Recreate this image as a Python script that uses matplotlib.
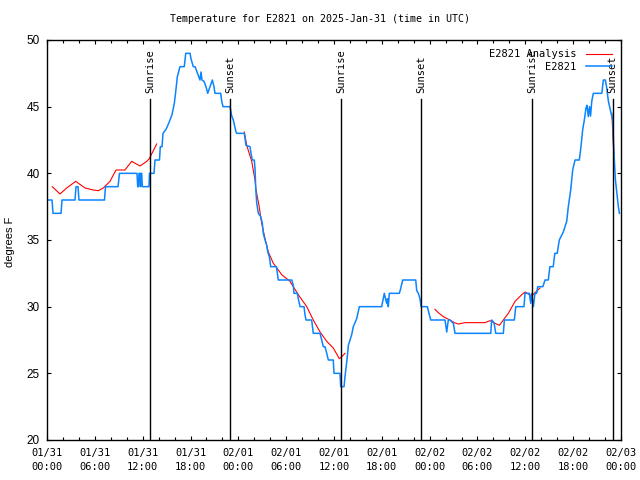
import numpy as np
import matplotlib
matplotlib.use("Agg")
import matplotlib.pyplot as plt

# (hours since 2025-01-31 00:00 UTC, degrees F)
obs_day1 = [(0.0, 38), (0.63, 38), (0.75, 37), (1.76, 37), (1.88, 38), (3.51, 38), (3.64, 39),
            (3.89, 39), (4.01, 38), (7.21, 38), (7.34, 39), (8.91, 39), (9.09, 40), (11.29, 40),
            (11.38, 39), (11.48, 39), (11.54, 40), (11.67, 40), (11.73, 39), (11.79, 40),
            (11.88, 40), (11.95, 39), (12.79, 39), (12.86, 40), (13.42, 40), (13.55, 41),
            (14.11, 41), (14.21, 42), (14.43, 42), (14.55, 43), (14.93, 43.3), (15.30, 43.8),
            (15.43, 44), (15.68, 44.4), (15.97, 45.25), (16.14, 46.1), (16.35, 47.25),
            (16.68, 48), (17.22, 48), (17.40, 49), (17.94, 49), (18.06, 48.6), (18.35, 48),
            (18.57, 48), (18.82, 47.6), (19.19, 47), (19.32, 47.6), (19.44, 47), (19.69, 46.9),
            (19.94, 46.5), (20.16, 46), (20.45, 46.5), (20.74, 47), (20.95, 46.5), (21.07, 46),
            (21.79, 46), (21.92, 45.4), (22.08, 45), (22.96, 45), (23.17, 44.3), (23.37, 44),
            (23.71, 43.1), (23.80, 43)]
obs_day2 = [(24.75, 43), (24.96, 42.1), (25.46, 42), (25.59, 41.5), (25.75, 41), (26.00, 41),
            (26.09, 40.4), (26.18, 38.9), (26.31, 37.75), (26.51, 37), (26.81, 36.75),
            (27.01, 36.25), (27.13, 35.5), (27.35, 35), (27.56, 34.6), (27.69, 34.1),
            (27.89, 33.75), (28.06, 33), (28.78, 33), (29.01, 32), (30.70, 32), (30.90, 31.6),
            (30.98, 31), (31.40, 31), (31.52, 30.6), (31.74, 30), (32.24, 30), (32.36, 29.4),
            (32.49, 29), (33.20, 29), (33.40, 28), (34.25, 28), (34.46, 27.5), (34.66, 27),
            (34.87, 27), (35.09, 26.5), (35.29, 26), (35.91, 26), (36.00, 25), (36.75, 25),
            (36.84, 24), (37.26, 24), (37.38, 24.75), (37.67, 26.25), (37.80, 27.1),
            (38.22, 27.9), (38.42, 28.5), (38.85, 29.1), (39.18, 30), (41.98, 30), (42.11, 30.4),
            (42.31, 31), (42.46, 30.6), (42.61, 30.25), (42.71, 30.6), (42.81, 30), (42.94, 31),
            (44.19, 31), (44.34, 31.3), (44.62, 32), (46.25, 32), (46.38, 31.2), (46.58, 31),
            (46.79, 30.6), (46.92, 30), (47.71, 30), (47.83, 29.7)]
obs_day3 = [(48.13, 29), (49.93, 29), (50.14, 28.1), (50.34, 29), (50.55, 29), (50.97, 28.75),
            (51.18, 28), (55.66, 28), (55.78, 29), (56.07, 28.8), (56.29, 28), (57.24, 28),
            (57.37, 29), (58.62, 29), (58.80, 30), (59.83, 30), (59.96, 31), (60.50, 31),
            (60.68, 30.25), (60.80, 31), (61.01, 30), (61.21, 31), (61.42, 31), (61.55, 31.5),
            (62.2, 31.5), (62.47, 32), (62.88, 32), (63.08, 33), (63.5, 33), (63.7, 34),
            (64.0, 34), (64.26, 35), (64.76, 35.6), (65.19, 36.4), (65.39, 37.5), (65.69, 38.75),
            (65.94, 40.25), (66.23, 41), (66.77, 41), (66.98, 42), (67.19, 43.25), (67.40, 44),
            (67.61, 44.9), (67.74, 45.1), (67.90, 44.25), (68.05, 45), (68.18, 44.3),
            (68.33, 45.4), (68.53, 46), (69.59, 46), (69.79, 47), (70.04, 47), (70.21, 46.4),
            (70.42, 45.4), (70.72, 44.6), (70.97, 44), (71.05, 42.5), (71.14, 41.25),
            (71.30, 39.5), (71.48, 38.5), (71.67, 37.5), (71.80, 37)]

# analysis, drawn only where it exists
ana_seg1 = [(0.66, 39.0), (1.63, 38.45), (2.47, 38.9), (3.60, 39.4), (4.77, 38.9), (5.81, 38.75),
            (6.44, 38.7), (7.06, 38.9), (7.90, 39.4), (8.66, 40.25), (9.78, 40.25), (10.62, 40.9),
            (11.67, 40.55), (12.51, 40.9), (12.83, 41.1), (13.76, 42.2)]
ana_seg2 = [(24.75, 43.1), (25.05, 42.1), (25.68, 40.9), (26.09, 39.5), (26.22, 38.75),
            (26.59, 37.6), (26.93, 36.25), (27.35, 35.1), (27.76, 34.1), (28.39, 33.25),
            (29.02, 32.75), (29.44, 32.4), (30.48, 31.9), (31.52, 30.9), (32.58, 30.0),
            (33.40, 29.0), (34.25, 28.1), (35.09, 27.4), (35.91, 26.9), (36.67, 26.1),
            (36.97, 26.25), (37.38, 26.5)]
ana_seg3 = [(48.67, 29.8), (49.09, 29.55), (49.71, 29.25), (50.55, 29.0), (51.09, 28.8),
            (51.59, 28.7), (52.43, 28.8), (54.94, 28.8), (55.56, 28.95), (56.20, 28.75),
            (56.74, 28.6), (57.24, 29.0), (57.87, 29.5), (58.71, 30.4), (59.55, 30.9),
            (59.96, 31.1), (60.38, 30.95), (60.80, 30.8), (61.21, 31.05), (61.84, 31.4)]
ana_seg4 = [(70.85, 44.5), (71.1, 41.5)]

sun_hours = [12.9, 22.95, 36.85, 46.95, 60.85, 70.95]
sun_labels = ["Sunrise", "Sunset", "Sunrise", "Sunset", "Sunrise", "Sunset"]

xtick_labels = ["01/31\n00:00", "01/31\n06:00", "01/31\n12:00", "01/31\n18:00",
                "02/01\n00:00", "02/01\n06:00", "02/01\n12:00", "02/01\n18:00",
                "02/02\n00:00", "02/02\n06:00", "02/02\n12:00", "02/02\n18:00",
                "02/03\n00:00"]

mono = "DejaVu Sans Mono"
sans = "Liberation Sans"

fig = plt.figure(figsize=(6.4, 4.8), dpi=100)
ax = fig.add_axes([47/640, 40/480, 574/640, 400/480])

for i, seg in enumerate([ana_seg1, ana_seg2, ana_seg3, ana_seg4]):
    h, t = zip(*seg)
    ax.plot(h, t, color="#ff0000", lw=0.8, label="E2821 Analysis" if i == 0 else None)

h, t = zip(*(obs_day1 + obs_day2 + obs_day3))
ax.plot(h, t, color="#0a84ff", lw=1.1, label="E2821")

for h, lab in zip(sun_hours, sun_labels):
    ax.plot([h, h], [20, 45.57], color="black", lw=1.0)
    ax.text(h, 46.0, lab, rotation=90, ha="center", va="bottom",
            fontsize=7.5, family=mono)

ax.set_xlim(0, 72)
ax.set_ylim(20, 50)
ax.set_xticks(np.arange(0, 73, 6))
ax.set_xticklabels(xtick_labels, family=mono, fontsize=7.5, linespacing=1.5)
ax.set_xticks(np.arange(0, 73, 2), minor=True)
ax.set_yticks(np.arange(20, 51, 5))
ax.set_yticklabels([str(v) for v in range(20, 51, 5)], family=sans, fontsize=8.5)
ax.tick_params(which="both", direction="in", top=True, right=True, width=0.8)
ax.tick_params(which="major", length=3.2)
ax.tick_params(which="minor", length=2.2)
ax.tick_params(axis="x", which="major", pad=6)
ax.tick_params(axis="y", which="major", pad=5)
for s in ax.spines.values():
    s.set_linewidth(1.0)

ax.legend(loc="upper right", markerfirst=False, frameon=False,
          prop={"family": mono, "size": 7.5}, handlelength=2.5,
          handletextpad=0.85, labelspacing=0.25, borderaxespad=0.7,
          borderpad=0.2)

fig.text(0.5, 1 - 19/480, "Temperature for E2821 on 2025-Jan-31 (time in UTC)",
         ha="center", va="center", family=mono, fontsize=7.2)
fig.text(10/640, 1 - 242/480, "degrees F", rotation=90, ha="center", va="center",
         family=sans, fontsize=8)

fig.savefig("out.png", dpi=100)
